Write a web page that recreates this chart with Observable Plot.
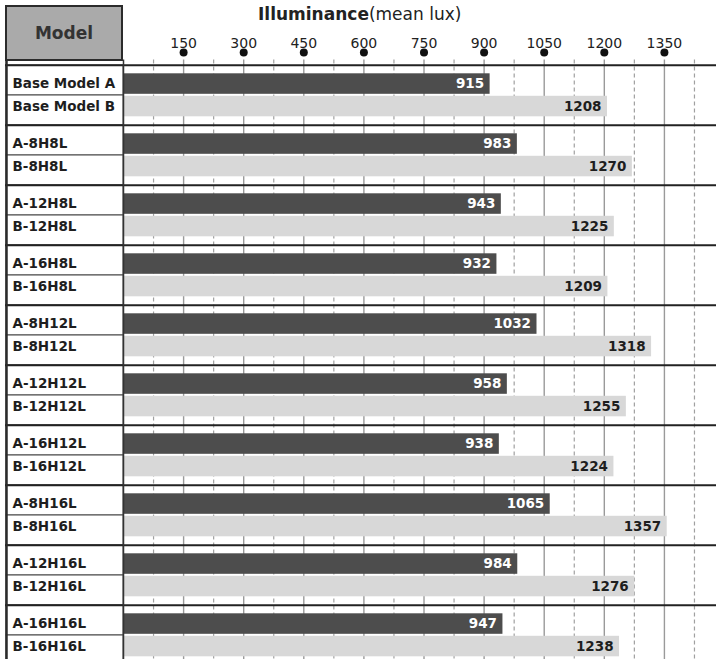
<!DOCTYPE html>
<html>
<head>
<meta charset="utf-8">
<script src="https://cdn.jsdelivr.net/npm/d3@7"></script>
<script src="https://cdn.jsdelivr.net/npm/@observablehq/plot@0.6"></script>
<style>
  html, body { margin: 0; padding: 0; background: #fff; overflow: hidden; }
  #wrap { position: relative; width: 716px; height: 659px; overflow: hidden; font-family: "DejaVu Sans", sans-serif; }
  #wrap svg { position: absolute; left: 0; top: 0; }
  #model { position: absolute; left: 5px; top: 5px; width: 118px; height: 56px; box-sizing: border-box;
           background: #aaaaaa; border: 2.5px solid #2b2b2b; display: flex; align-items: center; justify-content: center;
           font-size: 17px; font-weight: bold; color: #333; z-index: 2; }
  #title { position: absolute; left: 258px; top: 6px; font-size: 17px; line-height: 17px; color: #222; white-space: nowrap; z-index: 2; }
  #title b { font-weight: bold; }
</style>
</head>
<body>
<div id="wrap">
  <div id="model">Model</div>
  <div id="title"><b>Illuminance</b>(mean lux)</div>
</div>
<script>
// ---- data ----
const models = [
  "Base Model A", "Base Model B",
  "A-8H8L", "B-8H8L",
  "A-12H8L", "B-12H8L",
  "A-16H8L", "B-16H8L",
  "A-8H12L", "B-8H12L",
  "A-12H12L", "B-12H12L",
  "A-16H12L", "B-16H12L",
  "A-8H16L", "B-8H16L",
  "A-12H16L", "B-12H16L",
  "A-16H16L", "B-16H16L"
];
const series = ["A","B","A","B","A","B","A","B","A","B","A","B","A","B","A","B","A","B","A","B"];
const illuminance = [915, 1208, 983, 1270, 943, 1225, 932, 1209, 1032, 1318, 958, 1255, 938, 1224, 1065, 1357, 984, 1276, 947, 1238];
const majorTicks = [150, 300, 450, 600, 750, 900, 1050, 1200, 1350];
const minorTicks = [75, 225, 375, 525, 675, 825, 975, 1125, 1275, 1425];

// ---- layout ----
const W = 716, ML = 123, MT = 59.5, rowH = 30.5;
const H = MT + models.length * rowH;

const rows = models.map((m, i) => ({model: m, value: illuminance[i], series: series[i]}));
const rowsA = rows.filter(d => d.series === "A");
const rowsB = rows.filter(d => d.series === "B");

const chart = Plot.plot({
  width: W,
  height: H,
  marginLeft: ML,
  marginRight: 0,
  marginTop: MT,
  marginBottom: 0,
  style: {fontFamily: "DejaVu Sans, sans-serif", fontSize: "13px", color: "#222", background: "transparent", overflow: "visible"},
  x: {domain: [0, 1480], label: null},
  y: {domain: models, paddingInner: 0, paddingOuter: 0, axis: null, label: null},
  marks: [
    Plot.ruleX(minorTicks, {stroke: "#a0a0a0", strokeWidth: 1.2, strokeDasharray: "4,3"}),
    Plot.ruleX(majorTicks, {stroke: "#9a9a9a", strokeWidth: 1.4}),
    Plot.cell(rows, {y: "model", fill: "white", stroke: "#444", strokeWidth: 1, insetLeft: -(ML - 6), insetRight: W - ML}),
    Plot.barX(rowsA, {x: "value", y: "model", fill: "#4d4d4d", insetTop: 8.3, insetBottom: 1.2}),
    Plot.barX(rowsB, {x: "value", y: "model", fill: "#d8d8d8", insetTop: 0.8, insetBottom: 8.7}),
    Plot.text(rowsA, {x: "value", y: "model", text: d => String(d.value), textAnchor: "end", dx: -6, dy: 3.5, fill: "white", fontWeight: "bold", fontSize: 13.5}),
    Plot.text(rowsB, {x: "value", y: "model", text: d => String(d.value), textAnchor: "end", dx: -6, dy: -4, fill: "#1e1e1e", fontWeight: "bold", fontSize: 13.5}),
    Plot.text(rowsA, {y: "model", text: "model", frameAnchor: "left", textAnchor: "start", dx: -111, dy: 3.3, fontWeight: "bold", fontSize: 13.5, fill: "#1e1e1e"}),
    Plot.text(rowsB, {y: "model", text: "model", frameAnchor: "left", textAnchor: "start", dx: -111, dy: -4.2, fontWeight: "bold", fontSize: 13.5, fill: "#1e1e1e"}),
    Plot.ruleY(rowsA, {y: "model", dy: -rowH / 2, stroke: "#222", strokeWidth: 2.2, insetLeft: -(ML - 5)}),
    Plot.ruleX([0], {stroke: "#333", strokeWidth: 1.5}),
    Plot.ruleX([0], {dx: -(ML - 6), stroke: "#2b2b2b", strokeWidth: 2.5}),
    Plot.axisX(majorTicks, {anchor: "top", tickSize: 0, tickPadding: 12, fontSize: 14, label: null, fill: "#222", tickFormat: d => String(d)}),
    Plot.dot(majorTicks, {x: d => d, frameAnchor: "top", dy: -7.5, r: 4, fill: "#111", stroke: "none"})
  ]
});
document.getElementById("wrap").prepend(chart);
</script>
</body>
</html>
